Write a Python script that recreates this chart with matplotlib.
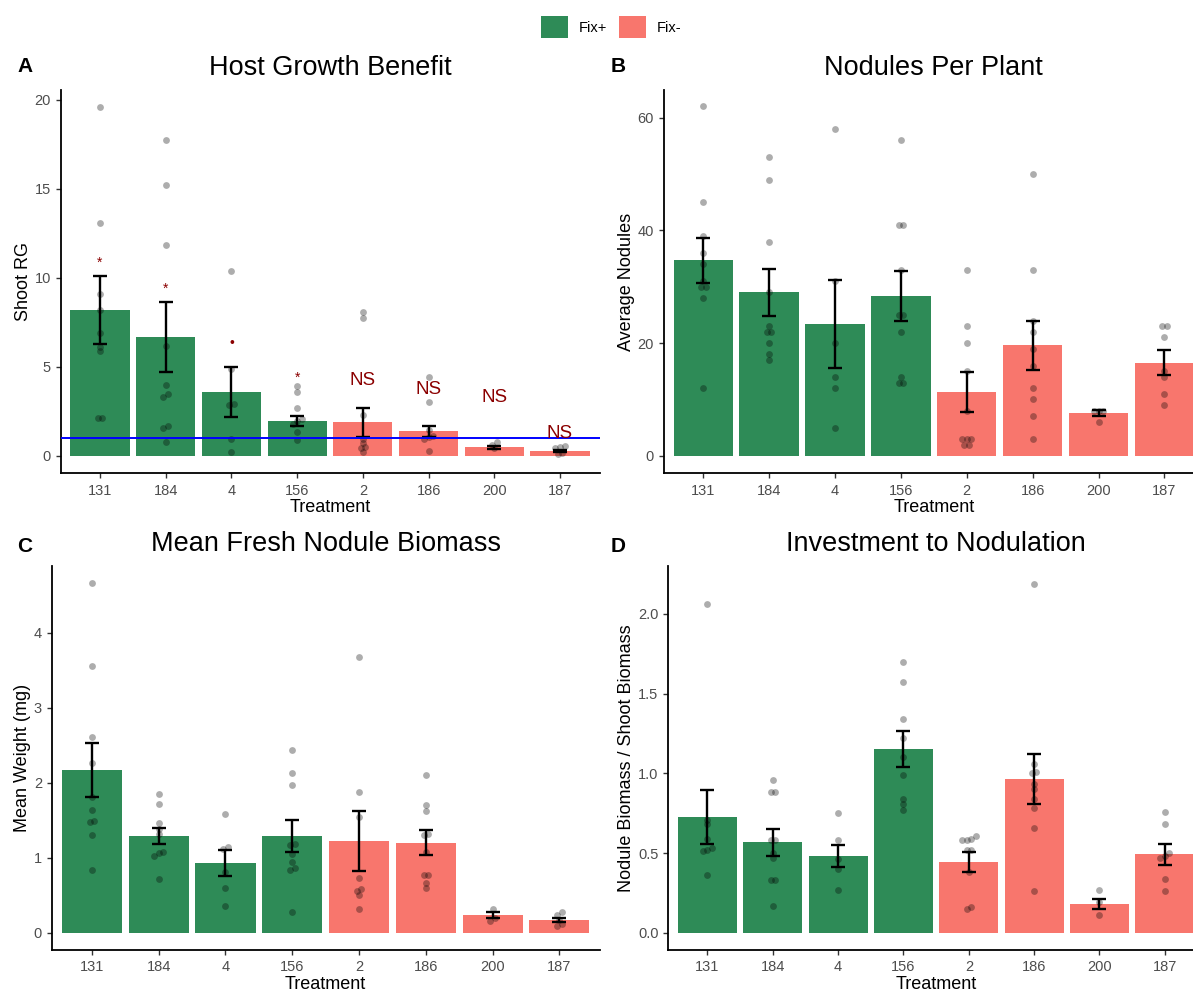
import matplotlib
matplotlib.use("Agg")
import matplotlib.pyplot as plt
from matplotlib.patches import Patch
import numpy as np

plt.rcParams["font.family"] = ["Liberation Sans", "DejaVu Sans"]

treatments = ["131", "184", "4", "156", "2", "186", "200", "187"]
fix_status = ["Fix+", "Fix+", "Fix+", "Fix+", "Fix-", "Fix-", "Fix-", "Fix-"]
FIX_COLORS = {"Fix+": "#2E8B57", "Fix-": "#F8766D"}

# A: host growth benefit (shoot relative growth)
rg_mean = [8.19, 6.67, 3.58, 1.95, 1.89, 1.39, 0.49, 0.28]
rg_se = [1.895, 1.965, 1.405, 0.28, 0.825, 0.315, 0.085, 0.075]
rg_points = [
    [19.6, 13.1, 9.1, 8.2, 6.9, 6.1, 5.9, 2.1, 2.15],
    [17.75, 15.2, 11.85, 6.2, 4.0, 3.45, 3.3, 1.65, 1.55, 0.8],
    [10.4, 4.9, 2.9, 2.85, 0.95, 0.2],
    [3.9, 3.6, 2.7, 2.05, 1.95, 1.8, 1.35, 0.9],
    [8.1, 7.75, 2.3, 0.95, 0.75, 0.5, 0.45, 0.2],
    [4.45, 3.05, 1.45, 1.1, 1.05, 0.95, 0.3],
    [0.8, 0.62, 0.42],
    [0.55, 0.5, 0.42, 0.18, 0.1],
]
rg_signif = ["*", "*", "•", "*", "NS", "NS", "NS", "NS"]
rg_signif_y = [10.65, 9.17, 6.13, 4.15, 4.0, 3.5, 3.0, 1.0]

# B: nodules per plant
nod_mean = [34.7, 29.05, 23.4, 28.35, 11.3, 19.6, 7.55, 16.55]
nod_se = [4.0, 4.15, 7.75, 4.5, 3.55, 4.4, 0.5, 2.2]
nod_points = [
    [62, 45, 39, 36, 34, 31, 30, 30, 28, 12],
    [53, 49, 38, 29, 23, 22, 22, 20, 18, 17],
    [58, 31, 20, 14, 12, 5],
    [56, 41, 41, 33, 25, 25, 22, 14, 13, 13],
    [33, 23, 20, 15, 8, 3, 3, 3, 2, 2],
    [50, 33, 24, 22, 19, 16, 12, 10, 7, 3],
    [8, 8, 8, 6],
    [23, 23, 21, 15, 14, 11, 9],
]

# C: mean fresh nodule weight (mg)
wt_mean = [2.17, 1.29, 0.93, 1.29, 1.22, 1.20, 0.24, 0.17]
wt_se = [0.365, 0.11, 0.17, 0.21, 0.405, 0.165, 0.04, 0.025]
wt_points = [
    [4.66, 3.55, 2.61, 2.26, 1.81, 1.64, 1.49, 1.48, 1.30, 0.84],
    [1.85, 1.72, 1.46, 1.38, 1.31, 1.08, 1.06, 1.02, 0.72],
    [1.58, 1.14, 1.12, 0.81, 0.60, 0.36],
    [2.43, 2.13, 1.97, 1.18, 1.17, 1.05, 0.94, 0.86, 0.84, 0.28],
    [3.68, 1.88, 1.54, 0.73, 0.58, 0.56, 0.50, 0.31],
    [2.10, 1.70, 1.62, 1.31, 1.30, 1.07, 0.77, 0.77, 0.66, 0.60],
    [0.32, 0.20, 0.16],
    [0.28, 0.24, 0.17, 0.12, 0.09],
]

# D: nodule biomass / shoot biomass
inv_mean = [0.725, 0.568, 0.481, 1.152, 0.443, 0.963, 0.18, 0.493]
inv_se = [0.169, 0.085, 0.068, 0.112, 0.065, 0.155, 0.03, 0.066]
inv_points = [
    [2.06, 0.71, 0.68, 0.59, 0.53, 0.52, 0.51, 0.36],
    [0.96, 0.88, 0.88, 0.58, 0.58, 0.50, 0.47, 0.33, 0.33, 0.17],
    [0.75, 0.58, 0.46, 0.40, 0.27],
    [1.70, 1.57, 1.34, 1.22, 1.10, 0.99, 0.84, 0.81, 0.77],
    [0.61, 0.59, 0.58, 0.58, 0.52, 0.52, 0.38, 0.16, 0.15],
    [2.19, 1.06, 1.01, 1.00, 0.93, 0.90, 0.84, 0.78, 0.66, 0.26],
    [0.27, 0.19, 0.11],
    [0.76, 0.68, 0.50, 0.48, 0.47, 0.34, 0.26],
]


def spread_offsets(values, tol, step=0.07):
    """Side-by-side offsets for points whose values nearly coincide."""
    values = np.asarray(values, dtype=float)
    order = np.argsort(values)
    offsets = np.zeros(len(values))
    groups, current = [], [order[0]]
    for idx in order[1:]:
        if values[idx] - values[current[-1]] < tol:
            current.append(idx)
        else:
            groups.append(current)
            current = [idx]
    groups.append(current)
    for g in groups:
        n = len(g)
        for k, idx in enumerate(g):
            offsets[idx] = (k - (n - 1) / 2) * step
    return offsets


def draw_panel(ax, means, ses, points, ylim, yticks, ylabel, title, fmt="{:g}"):
    x = np.arange(1, len(treatments) + 1)
    colors = [FIX_COLORS[f] for f in fix_status]
    ax.bar(x, means, width=0.9, color=colors, zorder=1)

    tol = 0.009 * (ylim[1] - ylim[0])
    for xi, vals in zip(x, points):
        off = spread_offsets(vals, tol)
        ax.scatter(xi + off, vals, s=24, color="black", alpha=0.32,
                   linewidths=0, zorder=2)

    ax.errorbar(x, means, yerr=ses, fmt="none", ecolor="black",
                elinewidth=1.7, capsize=5.3, capthick=1.7, zorder=3)

    ax.set_xlim(0.4, 8.6)
    ax.set_ylim(*ylim)
    ax.set_xticks(x)
    ax.set_xticklabels(treatments)
    ax.set_yticks(yticks)
    ax.set_yticklabels([fmt.format(t) for t in yticks])
    ax.tick_params(axis="both", colors="#333333", labelcolor="#4D4D4D",
                   labelsize=10.5, length=3.5, width=1.0)
    ax.tick_params(axis="x", pad=4)
    ax.spines[["top", "right"]].set_visible(False)
    for side in ("left", "bottom"):
        ax.spines[side].set_linewidth(1.3)
        ax.spines[side].set_color("black")
    ax.set_xlabel("Treatment", fontsize=13, labelpad=1)
    ax.set_ylabel(ylabel, fontsize=13, labelpad=2)
    ax.set_title(title, fontsize=19.5, pad=11)


W, H = 1193, 991
fig = plt.figure(figsize=(W / 100, H / 100), dpi=100)


def px_axes(left, right, top, bottom):
    return fig.add_axes([left / W, 1 - bottom / H, (right - left) / W,
                         (bottom - top) / H])


ax_a = px_axes(60.5, 599.5, 90, 473.3)
ax_b = px_axes(663.7, 1204, 90, 473.3)
ax_c = px_axes(51.8, 599.5, 566, 950)
ax_d = px_axes(668.3, 1204, 566, 950)

draw_panel(ax_a, rg_mean, rg_se, rg_points, (-0.98, 20.56), [0, 5, 10, 15, 20],
           "Shoot RG", "Host Growth Benefit")
ax_a.axhline(1, color="blue", linewidth=1.4, zorder=4)
for xi, (lab, y) in enumerate(zip(rg_signif, rg_signif_y), start=1):
    size = 13.5 if lab == "NS" else 10
    ax_a.text(xi, y, lab, color="#8B0000", fontsize=size, ha="center",
              va="baseline", zorder=5)

draw_panel(ax_b, nod_mean, nod_se, nod_points, (-3.1, 64.92), [0, 20, 40, 60],
           "Average Nodules", "Nodules Per Plant")
draw_panel(ax_c, wt_mean, wt_se, wt_points, (-0.233, 4.89), [0, 1, 2, 3, 4],
           "Mean Weight (mg)", "Mean Fresh Nodule Biomass")
draw_panel(ax_d, inv_mean, inv_se, inv_points, (-0.108, 2.30),
           [0.0, 0.5, 1.0, 1.5, 2.0], "Nodule Biomass / Shoot Biomass",
           "Investment to Nodulation", fmt="{:.1f}")

# panel tags
for tag, (px, py) in zip("ABCD", [(25, 66), (618, 66), (25, 547), (618, 547)]):
    fig.text(px / W, 1 - py / H, tag, fontsize=15, fontweight="bold",
             ha="center", va="center")

handles = [Patch(facecolor=FIX_COLORS[k], label=k) for k in ("Fix+", "Fix-")]
fig.legend(handles=handles, loc="center", bbox_to_anchor=(611 / W, 1 - 27 / H),
           ncol=2, frameon=False, fontsize=10.5, handlelength=1.9,
           handleheight=1.9, handletextpad=0.7, columnspacing=0.8,
           borderaxespad=0)

fig.savefig("out.png", dpi=100)
